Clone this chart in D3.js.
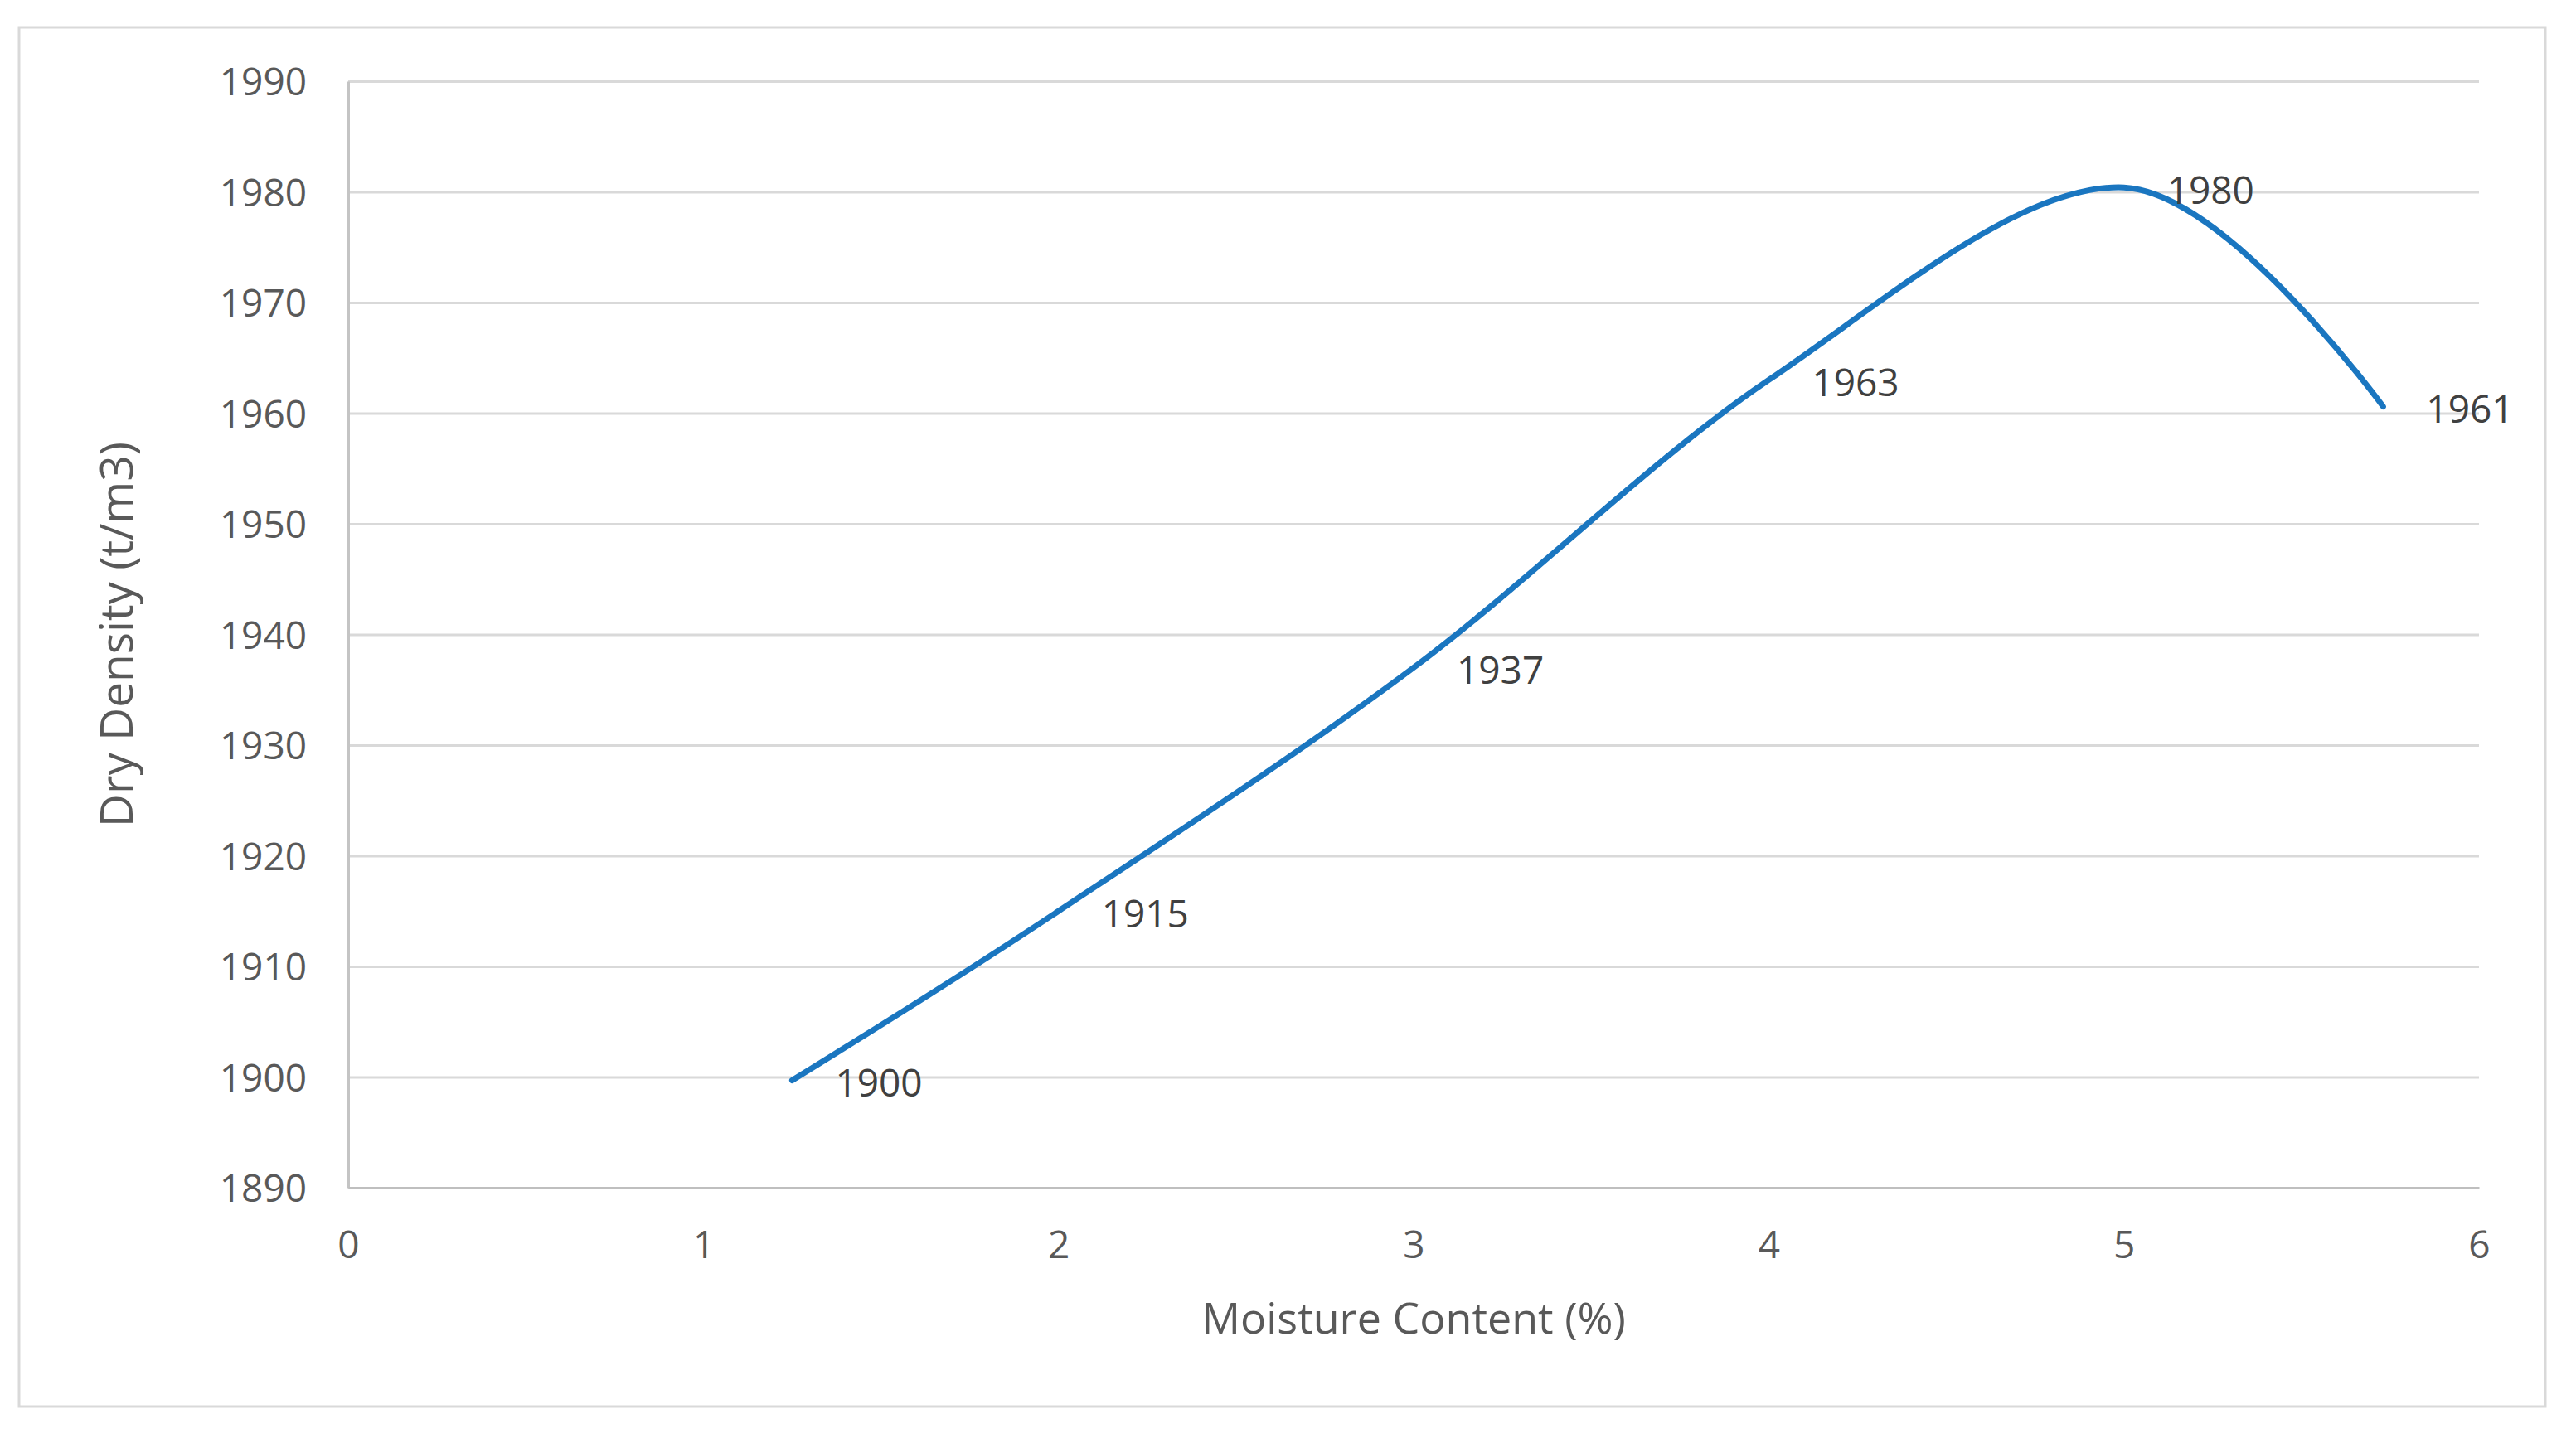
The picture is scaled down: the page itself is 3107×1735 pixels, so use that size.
<!DOCTYPE html>
<html>
<head>
<meta charset="utf-8">
<script src="https://cdn.jsdelivr.net/npm/d3@7"></script>
<style>
  html, body { margin: 0; padding: 0; background: #ffffff; }
  svg { display: block; }
  text { font-family: "Open Sans", "Noto Sans", sans-serif; }
</style>
</head>
<body>
<svg id="chart" width="3107" height="1735"></svg>
<script>
// ---- data ----
const moisture = [1.25, 2.0, 3.0, 4.0, 5.0, 5.73];
const dryDensity = [1899.7, 1915, 1937, 1963, 1980.4, 1960.6];
const xTicks = [0, 1, 2, 3, 4, 5, 6];
const yTicks = [1890, 1900, 1910, 1920, 1930, 1940, 1950, 1960, 1970, 1980, 1990];
const xTitle = "Moisture Content (%)";
const yTitle = "Dry Density (t/m3)";

// ---- layout ----
const W = 3107, H = 1735;
const plot = { left: 420, right: 2990, top: 98, bottom: 1433 };
const svg = d3.select("#chart");

svg.append("rect")
  .attr("x", 23).attr("y", 33)
  .attr("width", 3070 - 23).attr("height", 1697 - 33)
  .attr("fill", "#ffffff")
  .attr("stroke", "#d9d9d9").attr("stroke-width", 3);

const x = d3.scaleLinear().domain([0, 6]).range([plot.left, plot.right]);
const y = d3.scaleLinear().domain([1890, 1990]).range([plot.bottom, plot.top]);

// gridlines
const yAxisGrid = d3.axisLeft(y).tickValues(yTicks).tickSize(-(plot.right - plot.left)).tickFormat("");
const gGrid = svg.append("g").attr("transform", `translate(${plot.left},0)`).call(yAxisGrid);
gGrid.select(".domain").remove();
gGrid.selectAll("line").attr("stroke", "#d9d9d9").attr("stroke-width", 3);

// y-axis line (left)
const yAxis = d3.axisLeft(y).tickValues(yTicks).tickSize(0).tickPadding(50)
  .tickFormat(d3.format("d"));
const gY = svg.append("g").attr("transform", `translate(${plot.left},0)`).call(yAxis);
gY.select(".domain").attr("stroke", "#c4c4c4").attr("stroke-width", 3);
gY.selectAll("text")
  .attr("fill", "#595959")
  .style("font-size", "46px")
  .attr("dy", "0.36em");

// x-axis
const xAxis = d3.axisBottom(x).tickValues(xTicks).tickSize(0).tickPadding(52)
  .tickFormat(d3.format("d"));
const gX = svg.append("g").attr("transform", `translate(0,${plot.bottom})`).call(xAxis);
gX.select(".domain").attr("stroke", "#bfbfbf").attr("stroke-width", 3);
gX.selectAll("text")
  .attr("fill", "#595959")
  .style("font-size", "46px")
  .attr("dy", "0.71em");

// line
const pts = moisture.map((m, i) => [m, dryDensity[i]]);
const line = d3.line()
  .x(d => x(d[0]))
  .y(d => y(d[1]))
  .curve(d3.curveCardinal.tension(0));
svg.append("path")
  .datum(pts)
  .attr("d", line)
  .attr("fill", "none")
  .attr("stroke", "#1a76c0")
  .attr("stroke-width", 7)
  .attr("stroke-linecap", "round")
  .attr("stroke-linejoin", "round");

// data labels
svg.append("g").selectAll("text")
  .data(pts)
  .join("text")
  .attr("x", d => x(d[0]) + 52)
  .attr("y", d => y(d[1]) + 3)
  .attr("dy", "0.36em")
  .attr("fill", "#404040")
  .style("font-size", "46px")
  .text(d => d3.format(".0f")(d[1]));

// axis titles
svg.append("text")
  .attr("x", (plot.left + plot.right) / 2)
  .attr("y", 1590)
  .attr("dy", "0.36em")
  .attr("text-anchor", "middle")
  .attr("fill", "#595959")
  .style("font-size", "52px")
  .text(xTitle);

svg.append("text")
  .attr("transform", `translate(140,${(plot.top + plot.bottom) / 2}) rotate(-90)`)
  .attr("dy", "0.36em")
  .attr("text-anchor", "middle")
  .attr("fill", "#595959")
  .style("font-size", "55px")
  .text(yTitle);
</script>
</body>
</html>
